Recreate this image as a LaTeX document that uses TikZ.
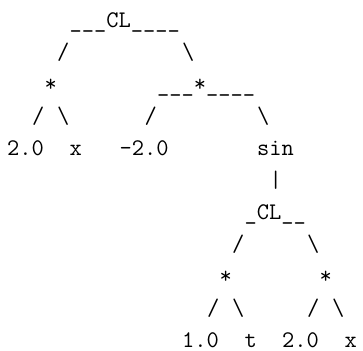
\documentclass[tikz,border=0pt]{standalone}
\begin{document}
\begin{tikzpicture}[x=1bp,y=-1bp,
  tok/.style={anchor=base west,inner sep=0pt,outer sep=0pt,
    font=\fontsize{23.8bp}{28bp}\selectfont\ttfamily}]
\useasboundingbox (0,0) rectangle (363,351);
\def\cx#1{7+#1*12.5}
% row 1
\node[tok] (r1a) at ({\cx{5}},27) {\_\_\_CL\_\_\_\_};
% row 2
\node[tok] (r2a) at ({\cx{4}},59) {/};
\node[tok] (r2b) at ({\cx{14}},59) {\textbackslash};
% row 3
\node[tok] (r3a) at ({\cx{3}},91) {*};
\node[tok] (r3b) at ({\cx{12}},91) {\_\_\_*\_\_\_\_};
% row 4
\node[tok] (r4a) at ({\cx{2}},123) {/};
\node[tok] (r4b) at ({\cx{4}},123) {\textbackslash};
\node[tok] (r4c) at ({\cx{11}},123) {/};
\node[tok] (r4d) at ({\cx{20}},123) {\textbackslash};
% row 5
\node[tok] (r5a) at ({\cx{0}},155) {2.0};
\node[tok] (r5b) at ({\cx{5}},155) {x};
\node[tok] (r5c) at ({\cx{9}},155) {-2.0};
\node[tok] (r5d) at ({\cx{20}},155) {sin};
% row 6
\node[tok] (r6a) at ({\cx{21}},187) {\textbar};
% row 7
\node[tok] (r7a) at ({\cx{19}},219) {\_CL\_\_};
% row 8
\node[tok] (r8a) at ({\cx{18}},251) {/};
\node[tok] (r8b) at ({\cx{24}},251) {\textbackslash};
% row 9
\node[tok] (r9a) at ({\cx{17}},283) {*};
\node[tok] (r9b) at ({\cx{25}},283) {*};
% row 10
\node[tok] (r10a) at ({\cx{16}},315) {/};
\node[tok] (r10b) at ({\cx{18}},315) {\textbackslash};
\node[tok] (r10c) at ({\cx{24}},315) {/};
\node[tok] (r10d) at ({\cx{26}},315) {\textbackslash};
% row 11
\node[tok] (r11a) at ({\cx{14}},347) {1.0};
\node[tok] (r11b) at ({\cx{19}},347) {t};
\node[tok] (r11c) at ({\cx{22}},347) {2.0};
\node[tok] (r11d) at ({\cx{27}},347) {x};
\end{tikzpicture}
\end{document}
